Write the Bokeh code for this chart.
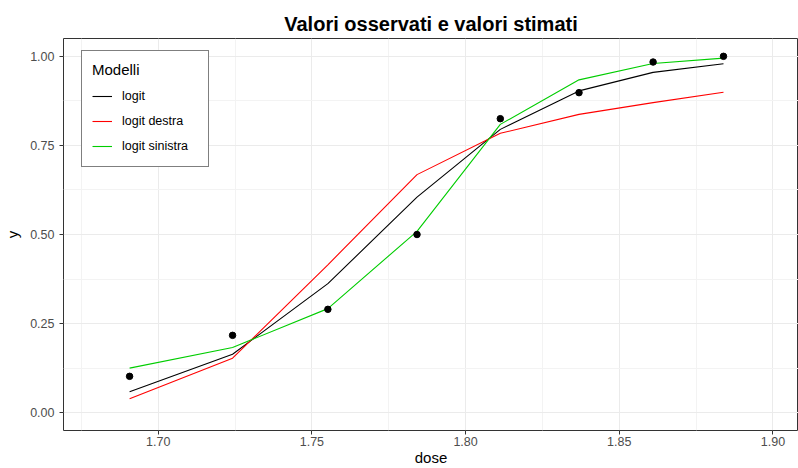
from bokeh.plotting import figure
from bokeh.models import (Range1d, FixedTicker, PrintfTickFormatter, Legend,
                          LegendItem, ColumnDataSource)
from bokeh.embed import file_html
from bokeh.resources import INLINE

# Dose levels and observed proportions
dose = [1.6907, 1.7242, 1.7552, 1.7842, 1.8113, 1.8369, 1.8610, 1.8839]
osservati = [0.102, 0.217, 0.290, 0.500, 0.825, 0.898, 0.984, 1.000]

# Fitted values for each model
logit = [0.059, 0.164, 0.362, 0.605, 0.795, 0.903, 0.955, 0.979]
logit_destra = [0.039, 0.153, 0.415, 0.668, 0.784, 0.837, 0.870, 0.899]
logit_sinistra = [0.125, 0.183, 0.292, 0.509, 0.809, 0.934, 0.980, 0.995]

# Axis ticks
x_ticks = [1.70, 1.75, 1.80, 1.85, 1.90]
x_minor = [1.675, 1.725, 1.775, 1.825, 1.875, 1.925]
y_ticks = [0.00, 0.25, 0.50, 0.75, 1.00]
y_minor = [0.125, 0.375, 0.625, 0.875]

FONT = "Liberation Sans"

src = ColumnDataSource(dict(dose=dose, oss=osservati, logit=logit,
                            destra=logit_destra, sinistra=logit_sinistra))

p = figure(width=798, height=468,
           x_range=Range1d(1.6692, 1.9083), y_range=Range1d(-0.05, 1.05),
           output_backend="svg", toolbar_location=None,
           min_border_left=63, min_border_right=0,
           min_border_top=38, min_border_bottom=0,
           title="Valori osservati e valori stimati")

p.background_fill_color = "white"
p.border_fill_color = "white"
p.outline_line_color = "#333333"
p.outline_line_width = 1

p.title.align = "center"
p.title.text_font = FONT
p.title.text_font_size = "20px"
p.title.text_font_style = "bold"
p.title.text_color = "black"
p.title.standoff = 7

# Axes
p.xaxis.ticker = FixedTicker(ticks=x_ticks, minor_ticks=x_minor)
p.yaxis.ticker = FixedTicker(ticks=y_ticks, minor_ticks=y_minor)
p.xaxis.formatter = PrintfTickFormatter(format="%.2f")
p.yaxis.formatter = PrintfTickFormatter(format="%.2f")
p.xaxis.axis_label = "dose"
p.yaxis.axis_label = "y"
for ax in (p.xaxis, p.yaxis):
    ax.axis_line_color = None
    ax.major_tick_line_color = "#333333"
    ax.major_tick_in = 0
    ax.major_tick_out = 4
    ax.minor_tick_line_color = None
    ax.major_label_text_font = FONT
    ax.major_label_text_font_size = "12.5px"
    ax.major_label_text_color = "#4D4D4D"
    ax.axis_label_text_font = FONT
    ax.axis_label_text_font_size = "15px"
    ax.axis_label_text_font_style = "normal"
    ax.axis_label_text_color = "black"
p.xaxis.major_label_standoff = 2
p.xaxis.axis_label_standoff = 0
p.yaxis.major_label_standoff = 5
p.yaxis.axis_label_standoff = 6

# Grid
p.xgrid.grid_line_color = "#EBEBEB"
p.ygrid.grid_line_color = "#EBEBEB"
p.xgrid.grid_line_width = 1
p.ygrid.grid_line_width = 1
p.xgrid.minor_grid_line_color = "#F3F3F3"
p.ygrid.minor_grid_line_color = "#F3F3F3"
p.xgrid.minor_grid_line_width = 1
p.ygrid.minor_grid_line_width = 1

# Fitted curves
r_logit = p.line("dose", "logit", source=src, line_color="black", line_width=1.1)
r_destra = p.line("dose", "destra", source=src, line_color="#FF0000", line_width=1.1)
r_sinistra = p.line("dose", "sinistra", source=src, line_color="#00CD00", line_width=1.1)

# Observed proportions
p.scatter("dose", "oss", source=src, size=6.5, color="black")

legend = Legend(items=[LegendItem(label="logit", renderers=[r_logit]),
                       LegendItem(label="logit destra", renderers=[r_destra]),
                       LegendItem(label="logit sinistra", renderers=[r_sinistra])],
                location=(18, 263))
legend.title = "Modelli"
legend.title_text_font = FONT
legend.title_text_font_size = "15px"
legend.title_text_font_style = "normal"
legend.title_text_color = "black"
legend.title_standoff = 8
legend.label_text_font = FONT
legend.label_text_font_size = "12.5px"
legend.label_text_color = "black"
legend.label_standoff = 10
legend.label_width = 76
legend.label_height = 20
legend.glyph_width = 20
legend.glyph_height = 20
legend.spacing = 5
legend.padding = 10
legend.margin = 0
legend.border_line_color = "black"
legend.border_line_width = 1
legend.background_fill_color = "white"
legend.background_fill_alpha = 1
p.add_layout(legend)

open("out.html", "w").write(file_html(p, INLINE))
